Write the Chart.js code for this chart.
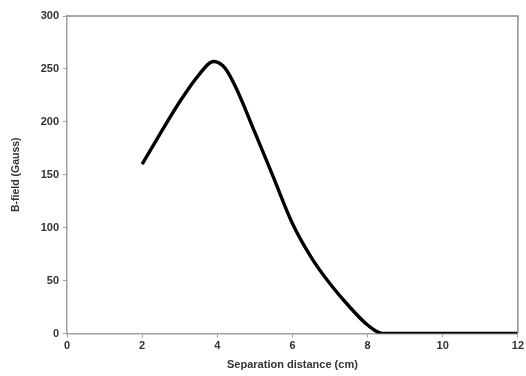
<!DOCTYPE html>
<html>
<head>
<meta charset="utf-8">
<script src="https://cdn.jsdelivr.net/npm/chart.js@4/dist/chart.umd.min.js"></script>
<style>
  html, body { margin: 0; padding: 0; background: #fff; }
  #wrap { width: 526px; height: 376px; position: relative; }
</style>
</head>
<body>
<div id="wrap"><canvas id="fieldChart"></canvas></div>
<script>
// Separation distance (cm) and measured B-field (Gauss)
const distances = [2, 2.5, 3, 3.5, 3.9, 4.2, 4.5, 5, 5.5, 6, 6.5, 7, 7.5, 8, 8.4, 9, 10, 11, 12];
const bField    = [160, 190, 219, 244, 257, 251, 232, 190, 147, 104, 72, 47, 26, 8, 0, 0, 0, 0, 0];

const xTicks = [0, 2, 4, 6, 8, 10, 12];
const yTicks = [0, 50, 100, 150, 200, 250, 300];

const axisGrey = '#a0a0a0';
const fontFamily = 'Liberation Sans, Arial, sans-serif';
const tickFont = { family: fontFamily, size: 11, weight: 'bold' };

// Grey frame round the plot area
const frame = {
    id: 'frame',
    afterDraw(chart) {
        const { ctx, chartArea: a } = chart;
        ctx.save();
        ctx.strokeStyle = '#8c8c8c';
        ctx.lineWidth = 1.5;
        ctx.beginPath();
        ctx.moveTo(a.left, a.top);
        ctx.lineTo(a.right, a.top);
        ctx.lineTo(a.right, a.bottom);
        ctx.stroke();
        ctx.restore();
    }
};

const ctx = document.getElementById('fieldChart').getContext('2d');

new Chart(ctx, {
    type: 'line',
    data: {
        datasets: [{
            data: distances.map((d, i) => ({ x: d, y: bField[i] })),
            borderColor: '#000',
            borderWidth: 3.4,
            pointRadius: 0,
            fill: false,
            cubicInterpolationMode: 'monotone'
        }]
    },
    options: {
        responsive: true,
        maintainAspectRatio: false,
        animation: false,
        layout: { padding: { left: 10, top: 16, right: 7, bottom: 0 } },
        plugins: {
            legend: { display: false },
            tooltip: { enabled: false }
        },
        scales: {
            x: {
                type: 'linear',
                min: 0,
                max: 12,
                afterBuildTicks: (s) => { s.ticks = xTicks.map(v => ({ value: v })); },
                afterFit: (s) => { s.height = 42.5; },
                ticks: { color: '#333', font: tickFont, padding: 2, maxRotation: 0 },
                grid: { display: true, drawOnChartArea: false, tickLength: 4, color: axisGrey },
                border: { color: axisGrey, width: 1.5 },
                title: {
                    display: true,
                    text: 'Separation distance (cm)',
                    color: '#333',
                    font: { family: fontFamily, size: 11, weight: 'bold' },
                    padding: { top: 3 }
                }
            },
            y: {
                type: 'linear',
                min: 0,
                max: 300,
                afterBuildTicks: (s) => { s.ticks = yTicks.map(v => ({ value: v })); },
                afterFit: (s) => { s.width = 57; },
                ticks: { color: '#333', font: tickFont, padding: 4 },
                grid: { display: true, drawOnChartArea: false, tickLength: 4, color: axisGrey },
                border: { color: axisGrey, width: 1.5 },
                title: {
                    display: true,
                    text: 'B-field (Gauss)',
                    color: '#333',
                    font: { family: fontFamily, size: 10.5, weight: 'bold' },
                    padding: { top: 0, bottom: 0 }
                }
            }
        }
    },
    plugins: [frame]
});
</script>
</body>
</html>
